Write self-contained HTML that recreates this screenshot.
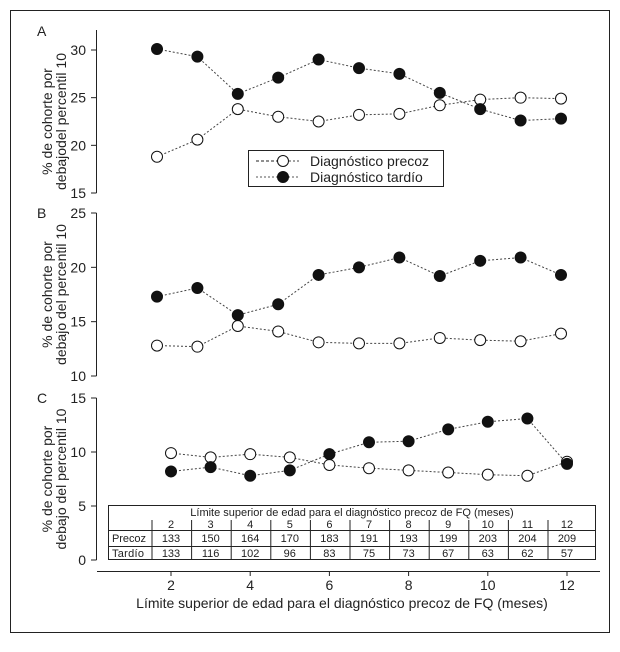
<!DOCTYPE html>
<html><head><meta charset="utf-8"><style>
body{margin:0;background:#fff;}
svg text{font-family:"Liberation Sans",sans-serif;fill:#222;}
</style></head><body>
<svg id="chart" width="620" height="647" xmlns="http://www.w3.org/2000/svg"></svg>
<script>
const months=[2,3,4,5,6,7,8,9,10,11,12];
const aPrecoz=[18.8,20.6,23.8,23.0,22.5,23.2,23.3,24.2,24.8,25.0,24.9];
const aTardio=[30.1,29.3,25.4,27.1,29.0,28.1,27.5,25.5,23.8,22.6,22.8];
const bPrecoz=[12.8,12.7,14.6,14.1,13.1,13.0,13.0,13.5,13.3,13.2,13.9];
const bTardio=[17.3,18.1,15.6,16.6,19.3,20.0,20.9,19.2,20.6,20.9,19.3];
const cPrecoz=[9.9,9.5,9.8,9.5,8.8,8.5,8.3,8.1,7.9,7.8,9.1];
const cTardio=[8.2,8.6,7.8,8.3,9.8,10.9,11.0,12.1,12.8,13.1,8.9];
const nPrecoz=[133,150,164,170,183,191,193,199,203,204,209];
const nTardio=[133,116,102,96,83,75,73,67,63,62,57];
const aTicks=[15,20,25,30], bTicks=[10,15,20,25], cTicks=[0,5,10,15];
const xTicks=[2,4,6,8,10,12];

const svg=document.getElementById('chart');
const NS='http://www.w3.org/2000/svg';
function mk(tag,attrs,parent){const e=document.createElementNS(NS,tag);for(const k in attrs)e.setAttribute(k,attrs[k]);(parent||svg).appendChild(e);return e;}
function txt(s,attrs,parent){const e=mk('text',attrs,parent);e.textContent=s;return e;}
const xAB=v=>157+(v-2)*40.4;
const xC=v=>171+(v-2)*39.6;

const frame=mk('rect',{x:10.5,y:10.5,width:599,height:622,fill:'none',stroke:'#222','stroke-width':1});



function panel(id,letter,yMin,yMax,yTop,yBot,ticks,pre,tar,titleLines,xS,axisTop,labelY){
  const g=mk('g',{});
  
  
  const yS=v=>yBot-(v-yMin)/(yMax-yMin)*(yBot-yTop);
  const ax=mk('line',{x1:96.5,x2:96.5,y1:axisTop,y2:yBot,stroke:'#222'},g);
  
  
  ticks.forEach(t=>{
    mk('line',{x1:91,x2:96.5,y1:yS(t),y2:yS(t),stroke:'#222'},g);
    const l=txt(String(t),{x:86,y:yS(t)+5,'font-size':14,'text-anchor':'end'},g);
    
    
  });
  const pl=txt(letter,{x:37,y:labelY,'font-size':14},g);
  
  
  const cy=(yTop+yBot)/2;
  const tt=txt('',{transform:`translate(0,${cy}) rotate(-90)`,'font-size':14,'text-anchor':'middle'},g);
  
  
  titleLines.forEach((s,i)=>{const ts=mk('tspan',{x:0,y:i===0?52:66},tt);ts.textContent=s;});
  [[pre,'precoz'],[tar,'tardio']].forEach(([arr,name])=>{
    const pts=arr.map((v,i)=>xS(months[i])+','+yS(v)).join(' ');
    const line=mk('polyline',{points:pts,fill:'none',stroke:'#444','stroke-width':1,'stroke-dasharray':'2,2'},g);
    
    
  });
  [[pre,'precoz','#fff'],[tar,'tardio','#111']].forEach(([arr,name,fill])=>{
    arr.forEach((v,i)=>{
      const c=mk('circle',{cx:xS(months[i]),cy:yS(v),r:5.5,fill:fill,stroke:'#111','stroke-width':1},g);
      
      
    });
  });
}
panel('a','A',15,30,50,193,aTicks,aPrecoz,aTardio,['% de cohorte por','debajodel percentil 10'],xAB,30,36);
panel('b','B',10,25,213,376,bTicks,bPrecoz,bTardio,['% de cohorte por','debajo del percentil 10'],xAB,213,218);
panel('c','C',0,15,398,560,cTicks,cPrecoz,cTardio,['% de cohorte por','debajo del percentil 10'],xC,398,403);

// legend
const lg=mk('g',{});


mk('rect',{x:248.5,y:150.5,width:195,height:36,fill:'#fff',stroke:'#222'},lg);
mk('line',{x1:256,x2:283,y1:161,y2:161,stroke:'#222','stroke-dasharray':'3,2'},lg);
mk('circle',{cx:283,cy:161,r:5.5,fill:'#fff',stroke:'#111'},lg);
mk('line',{x1:289,x2:300,y1:161,y2:161,stroke:'#444','stroke-dasharray':'2,2'},lg);
mk('line',{x1:256,x2:300,y1:177,y2:177,stroke:'#555','stroke-dasharray':'2,2'},lg);
mk('circle',{cx:283,cy:177,r:5.5,fill:'#111',stroke:'#111'},lg);
const l1=txt('Diagnóstico precoz',{x:310,y:166,'font-size':14},lg);


const l2=txt('Diagnóstico tardío',{x:310,y:182,'font-size':14},lg);



// x axis
const xa=mk('line',{x1:97,x2:600,y1:571.5,y2:571.5,stroke:'#222'});


xTicks.forEach(t=>{
  mk('line',{x1:xC(t),x2:xC(t),y1:571.5,y2:576,stroke:'#222'});
  const l=txt(String(t),{x:xC(t),y:590,'font-size':14,'text-anchor':'middle'});
  
  
});
const xt=txt('Límite superior de edad para el diagnóstico precoz de FQ (meses)',{x:342,y:608,'font-size':14,'text-anchor':'middle'});



// table
const tb=mk('g',{});


mk('rect',{x:108.5,y:505.5,width:487,height:54,fill:'#fff',stroke:'#222'},tb);
txt('Límite superior de edad para el diagnóstico precoz de FQ (meses)',{x:352,y:516,'font-size':11,'text-anchor':'middle'},tb);
mk('line',{x1:108.5,x2:595.5,y1:530.5,y2:530.5,stroke:'#222'},tb);
mk('line',{x1:108.5,x2:595.5,y1:546.5,y2:546.5,stroke:'#222'},tb);
txt('Precoz',{x:112,y:542,'font-size':11,textLength:34},tb);
txt('Tardío',{x:112,y:557,'font-size':11,textLength:32},tb);
months.forEach((m,i)=>{
  const x=xC(m);
  const sep=x-19;
  mk('line',{x1:sep,x2:sep,y1:520,y2:559.5,stroke:'#222'},tb);
  txt(String(m),{x:x,y:528,'font-size':11,'text-anchor':'middle'},tb);
  const p=txt(String(nPrecoz[i]),{x:x,y:542,'font-size':11,'text-anchor':'middle'},tb);
  
  
  const t=txt(String(nTardio[i]),{x:x,y:557,'font-size':11,'text-anchor':'middle'},tb);
  
  
});
</script>
</body></html>
